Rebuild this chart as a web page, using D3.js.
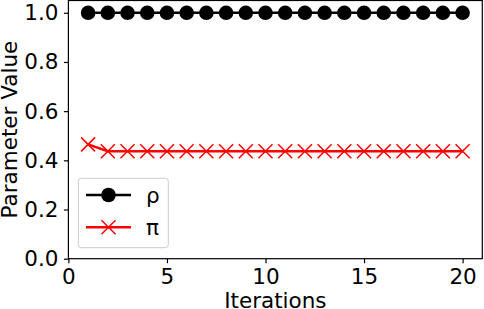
<!DOCTYPE html>
<html>
<head>
<meta charset="utf-8">
<script src="https://cdn.jsdelivr.net/npm/d3@7"></script>
<style>
  body { margin: 0; background: #fff; }
  text { font-family: "DejaVu Sans", sans-serif; }
</style>
</head>
<body>
<div class="container"></div>
<script>
// values
const iterations = [1,2,3,4,5,6,7,8,9,10,11,12,13,14,15,16,17,18,19,20];
const rhoValues = [1,1,1,1,1,1,1,1,1,1,1,1,1,1,1,1,1,1,1,1];
const piValues = [0.465,0.437,0.437,0.437,0.437,0.437,0.437,0.437,0.437,0.437,
                  0.437,0.437,0.437,0.437,0.437,0.437,0.437,0.437,0.437,0.437];
const xTicks = [0,5,10,15,20];
const yTicks = [0,0.2,0.4,0.6,0.8,1.0];
const seriesNames = ["ρ", "π"];

const width = 484;
const height = 309;
const padLeft = 68.4, padRight = 482.3, padTop = 0.5, padBottom = 258.7;
const fontSize = 21.5;

const svg = d3.select(".container").append("svg")
    .attr("width", width)
    .attr("height", height);

const xScale = d3.scaleLinear().domain([0, 21]).range([padLeft, padRight]);
const yScale = d3.scaleLinear().domain([0, 1.05]).range([padBottom, padTop]);

// frame
svg.append("rect")
    .attr("x", padLeft).attr("y", padTop)
    .attr("width", padRight - padLeft).attr("height", padBottom - padTop)
    .attr("fill", "none").attr("stroke", "#000").attr("stroke-width", 1.2);

const xAxis = d3.axisBottom(xScale).tickValues(xTicks).tickFormat(d3.format("d"))
    .tickSize(4.5).tickPadding(5.5);
const yAxis = d3.axisLeft(yScale).tickValues(yTicks).tickFormat(d3.format(".1f"))
    .tickSize(4.5).tickPadding(5.5);

svg.append("g").attr("transform", `translate(0,${padBottom})`).call(xAxis)
    .call(g => g.select(".domain").remove());
svg.append("g").attr("transform", `translate(${padLeft},0)`).call(yAxis)
    .call(g => g.select(".domain").remove());

svg.selectAll(".tick line").attr("stroke", "#000").attr("stroke-width", 1.2);
svg.selectAll(".tick text").attr("font-size", fontSize).attr("fill", "#000")
    .attr("font-family", "DejaVu Sans");

// axis labels
svg.append("text")
    .attr("x", (padLeft + padRight) / 2).attr("y", 307.5)
    .attr("text-anchor", "middle").attr("font-size", fontSize)
    .text("Iterations");
svg.append("text")
    .attr("transform", `translate(16.8,${(padTop + padBottom) / 2}) rotate(-90)`)
    .attr("text-anchor", "middle").attr("font-size", fontSize)
    .text("Parameter Value");

const line = d3.line().x(d => xScale(d[0])).y(d => yScale(d[1]));
const rhoData = iterations.map((it, i) => [it, rhoValues[i]]);
const piData = iterations.map((it, i) => [it, piValues[i]]);

const xPath = s => `M${-s},${-s}L${s},${s}M${-s},${s}L${s},${-s}`;

// rho
svg.append("path").datum(rhoData).attr("d", line)
    .attr("fill", "none").attr("stroke", "#000").attr("stroke-width", 2.5);
svg.selectAll(".rho").data(rhoData).enter().append("circle")
    .attr("class", "rho")
    .attr("cx", d => xScale(d[0])).attr("cy", d => yScale(d[1]))
    .attr("r", 7.3).attr("fill", "#000");

// pi
svg.append("path").datum(piData).attr("d", line)
    .attr("fill", "none").attr("stroke", "red").attr("stroke-width", 2.5);
svg.selectAll(".pi").data(piData).enter().append("path")
    .attr("class", "pi")
    .attr("transform", d => `translate(${xScale(d[0])},${yScale(d[1])})`)
    .attr("d", xPath(7)).attr("fill", "none")
    .attr("stroke", "red").attr("stroke-width", 1.5);

// legend
const legend = svg.append("g");
legend.append("rect")
    .attr("x", 78.3).attr("y", 178.3).attr("width", 90).attr("height", 69.4)
    .attr("rx", 3).attr("fill", "#fff").attr("fill-opacity", 0.8)
    .attr("stroke", "#ccc").attr("stroke-width", 1);
const rows = [
    {name: seriesNames[0], color: "#000", y: 195, marker: "circle"},
    {name: seriesNames[1], color: "red", y: 227.3, marker: "x"}
];
rows.forEach(r => {
    legend.append("line")
        .attr("x1", 86).attr("x2", 131).attr("y1", r.y).attr("y2", r.y)
        .attr("stroke", r.color).attr("stroke-width", 2.5);
    if (r.marker === "circle") {
        legend.append("circle").attr("cx", 108.5).attr("cy", r.y).attr("r", 7.3)
            .attr("fill", r.color);
    } else {
        legend.append("path").attr("transform", `translate(108.5,${r.y})`)
            .attr("d", xPath(7)).attr("fill", "none")
            .attr("stroke", r.color).attr("stroke-width", 1.5);
    }
    legend.append("text").attr("x", 146).attr("y", r.y + 7.5)
        .attr("font-size", fontSize).text(r.name);
});
</script>
</body>
</html>
